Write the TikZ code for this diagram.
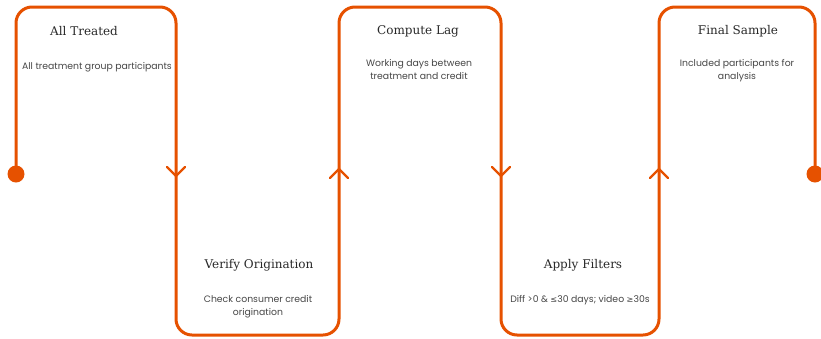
\documentclass[tikz,border=0pt]{standalone}
\usepackage{fontspec}
\setmainfont{DejaVu Serif}
\newfontfamily\bodyfont{Poppins}
\newfontfamily\symfont{DejaVu Sans}
\usetikzlibrary{positioning,calc}

\definecolor{flowline}{RGB}{230,81,0}
\definecolor{titlegray}{RGB}{40,40,40}
\definecolor{bodygray}{RGB}{70,70,70}

% open chevron on the line, pointing up or down
\newcommand\chevdown[1]{\draw[color=flowline,line width=2.4pt,line cap=round] ($(#1)+(-9,-5)$) -- ($(#1)+(0,4)$) -- ($(#1)+(9,-5)$);}
\newcommand\chevup[1]{\draw[color=flowline,line width=2.4pt,line cap=round] ($(#1)+(-9,5)$) -- ($(#1)+(0,-4)$) -- ($(#1)+(9,5)$);}

\begin{document}
\begin{tikzpicture}[x=1pt,y=-1pt,
  stage/.style={font=\fontsize{12}{14}\selectfont, text=titlegray},
  note/.style={font=\bodyfont\fontsize{9.3}{13.5}\selectfont, text=bodygray, align=center, anchor=north, inner sep=0pt}]
\useasboundingbox (0,0) rectangle (821,338);

% turning points of the line
\coordinate (s) at (16,174);
\coordinate (t1) at (16,7);
\coordinate (t2) at (176,7);
\coordinate (b1) at (176,335);
\coordinate (b2) at (339,335);
\coordinate (t3) at (339,7);
\coordinate (t4) at (501,7);
\coordinate (b3) at (501,335);
\coordinate (b4) at (659,335);
\coordinate (t5) at (659,7);
\coordinate (t6) at (815,7);
\coordinate (e) at (815,174);

\draw[color=flowline,line width=3pt,rounded corners=16pt]
  (s) -- (t1) -- (t2) -- (b1) -- (b2) -- (t3) -- (t4) -- (b3) -- (b4) -- (t5) -- (t6) -- (e);
\fill[flowline] (s) circle (8.5);
\fill[flowline] (e) circle (8.5);

\chevdown{176,172}
\chevup{339,173}
\chevdown{501,172}
\chevup{659,173}

% stages
\node[stage] (all) at (84,31) {All Treated};
\node[note] (allnote) at (97,62) {All treatment group participants};

\node[stage] (verify) at (259,265) {Verify Origination};
\node[note] (verifynote) at (258,295) {Check consumer credit\\origination};

\node[stage] (lag) at (418,31) {Compute Lag};
\node[note] (lagnote) at (419,59) {Working days between\\treatment and credit};

\node[stage] (filt) at (583,265) {Apply Filters};
\node[note] (filtnote) at (580,295) {Diff >0 \& {\symfont\fontsize{8.2}{13.5}\selectfont≤}30 days; video {\symfont\fontsize{8.2}{13.5}\selectfont≥}30s};

\node[stage] (final) at (738,31) {Final Sample};
\node[note] (finalnote) at (737,59) {Included participants for\\analysis};
\end{tikzpicture}
\end{document}
